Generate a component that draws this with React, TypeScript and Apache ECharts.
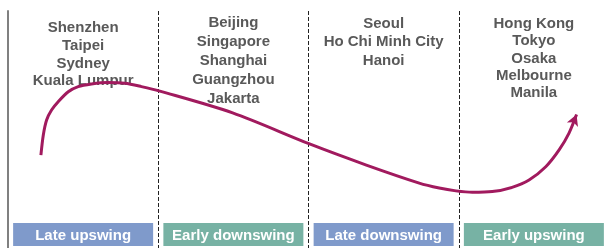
import React, { useEffect, useRef } from "react";
import * as echarts from "echarts";

// Phases of the cycle (bottom boxes)
const phases = ["Late upswing", "Early downswing", "Late downswing", "Early upswing"];
const phaseColors = ["#7f9acb", "#77b2a4", "#7f9acb", "#77b2a4"];

// Cities per phase (top labels)
const cities = [
  ["Shenzhen", "Taipei", "Sydney", "Kuala Lumpur"],
  ["Beijing", "Singapore", "Shanghai", "Guangzhou", "Jakarta"],
  ["Seoul", "Ho Chi Minh City", "Hanoi"],
  ["Hong Kong", "Tokyo", "Osaka", "Melbourne", "Manila"],
];
const cityLineHeights = [17.7, 19, 18.5, 17.3];
const cityTopPad = [7, 1, 2, 3];

// Cycle curve: x = position along phases (0..4), y = level (0..100)
const curveX = [0.219, 0.235, 0.257, 0.29, 0.334, 0.401, 0.467, 0.556, 0.664, 0.777, 0.888, 1.01, 1.495, 2.007, 2.385, 2.737, 2.87, 2.981, 3.09, 3.223, 3.355, 3.468, 3.579, 3.668, 3.734, 3.784];
const curveY = [39.2, 47.7, 54.0, 58.2, 61.7, 65.9, 68.1, 69.2, 69.8, 69.5, 68.1, 66.2, 57.0, 43.9, 35.0, 27.4, 25.3, 24.1, 23.5, 23.8, 25.6, 28.7, 34.3, 41.4, 48.5, 56.3];

const FONT = "'Liberation Sans', Arial, Helvetica, sans-serif";

export default function App() {
  const ref = useRef<HTMLDivElement>(null);
  useEffect(() => {
    if (!ref.current) return;
    const chart = echarts.init(ref.current, null, { renderer: "svg" });
    const n = curveX.length;
    const data = curveX.map((x, i) => {
      if (i === n - 1) {
        return {
          value: [x, curveY[i]],
          symbol: "arrow",
          symbolSize: [9, 11],
          symbolRotate: -22,
        };
      }
      return { value: [x, curveY[i]], symbol: "none" };
    });
    chart.setOption({
      animation: false,
      grid: { left: 8, right: -1, top: 11, bottom: 0, containLabel: false },
      xAxis: [
        { type: "value", min: 0, max: 4, show: false },
        {
          type: "category",
          position: "bottom",
          boundaryGap: true,
          data: phases.map((p, i) => ({
            value: p,
            textStyle: { backgroundColor: phaseColors[i] },
          })),
          axisLine: { show: false },
          axisTick: { show: false },
          splitLine: {
            show: true,
            showMinLine: false,
            showMaxLine: false,
            interval: 0,
            lineStyle: { type: [4, 2], color: "#222", width: 1 },
          },
          axisLabel: {
            inside: true,
            interval: 0,
            margin: 2,
            color: "#fff",
            fontSize: 15,
            fontWeight: "bold",
            fontFamily: FONT,
            width: 140,
            height: 23,
            lineHeight: 23,
            align: "center",
          },
        },
        {
          type: "category",
          position: "top",
          boundaryGap: true,
          data: cities.map((c, i) => ({
            value: c.join("\n"),
            textStyle: { lineHeight: cityLineHeights[i], padding: [cityTopPad[i], 0, 0, 0] },
          })),
          axisLine: { show: false },
          axisTick: { show: false },
          splitLine: { show: false },
          axisLabel: {
            inside: true,
            interval: 0,
            margin: 0,
            color: "#595959",
            fontSize: 15,
            fontWeight: "bold",
            fontFamily: FONT,
            verticalAlign: "top",
            align: "center",
          },
        },
      ],
      yAxis: {
        type: "value",
        min: 0,
        max: 100,
        axisLine: { show: true, onZero: false, lineStyle: { color: "#808080", width: 2 } },
        axisTick: { show: false },
        axisLabel: { show: false },
        splitLine: { show: false },
      },
      series: [
        {
          type: "line",
          xAxisIndex: 0,
          data,
          smooth: 0.3,
          showSymbol: true,
          showAllSymbol: true,
          lineStyle: { color: "#a11a5e", width: 3 },
          itemStyle: { color: "#a11a5e" },
          z: 1,
        },
      ],
    });
    return () => chart.dispose();
  }, []);
  return (
    <div
      ref={ref}
      style={{ position: "fixed", left: 0, top: 0, width: 609, height: 248 }}
    />
  );
}
